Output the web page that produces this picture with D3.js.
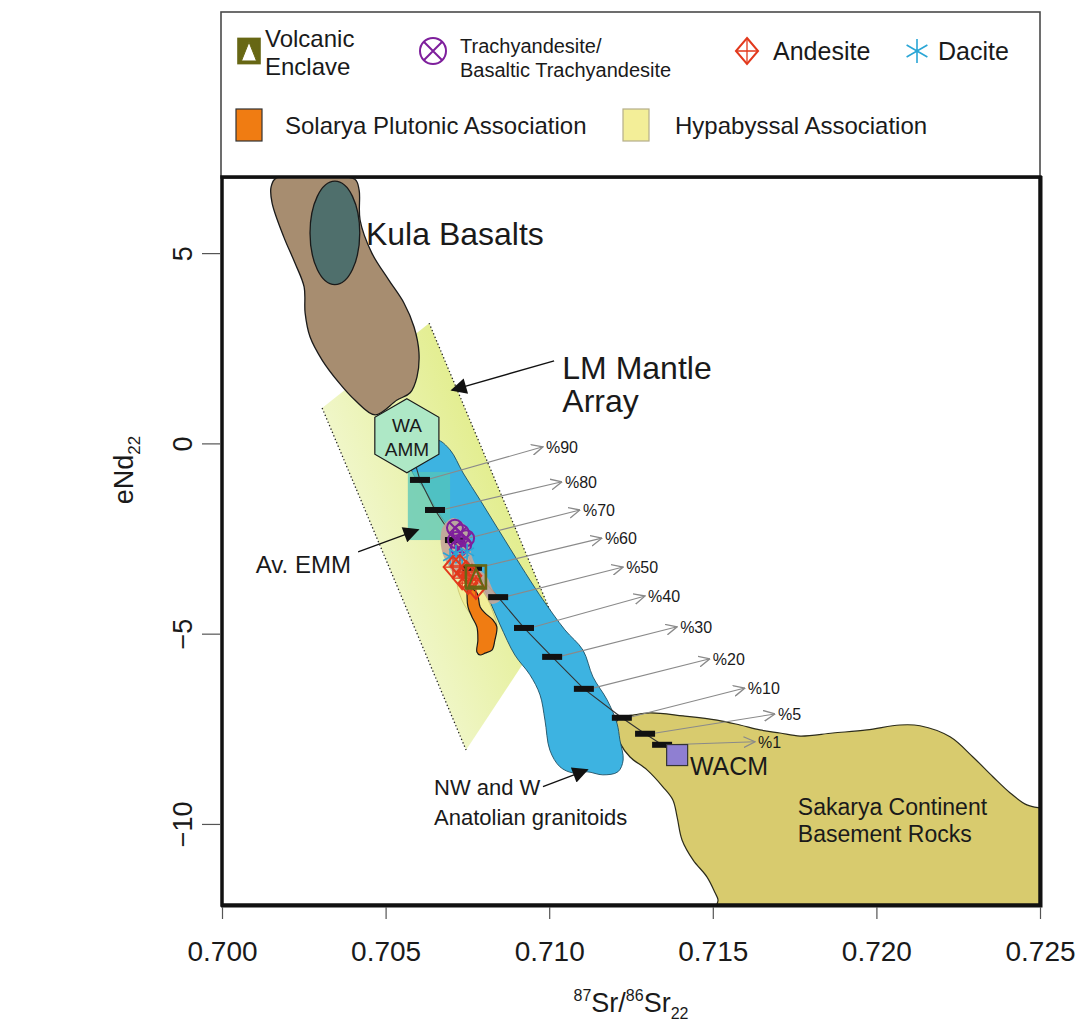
<!DOCTYPE html>
<html>
<head>
<meta charset="utf-8">
<script src="https://cdn.jsdelivr.net/npm/d3@7/dist/d3.min.js"></script>
<style>
  html, body { margin: 0; padding: 0; background: #ffffff; }
  svg text { font-family: "Liberation Sans", Arial, Helvetica, sans-serif; fill: #1a1a1a; }
</style>
</head>
<body>
<svg id="chart" width="1091" height="1026"></svg>
<script>
// ---------------- axes ----------------
const xDomain = [0.700, 0.725];
const yDomain = [-12.13, 7.0];
const xTicks = [0.700, 0.705, 0.710, 0.715, 0.720, 0.725];
const yTicks = [-10, -5, 0, 5];

// ---------------- reference fields: [87Sr/86Sr, eNd] ----------------
const kulaField = [[0.70150,6.74],[0.70165,6.97],[0.70284,6.99],[0.70406,6.94],[0.70419,6.66],[0.70422,5.87],
  [0.70458,5.00],[0.70510,4.29],[0.70556,3.69],[0.70587,3.06],[0.70602,2.38],[0.70596,1.75],[0.70575,1.33],
  [0.70535,1.14],[0.70468,0.75],[0.70406,1.14],[0.70358,1.59],[0.70306,2.19],[0.70269,2.80],[0.70254,3.43],
  [0.70251,4.11],[0.70223,4.74],[0.70189,5.42],[0.70153,6.32]];
const kulaCore = { sr: 0.70345, nd: 5.53, dSr: 0.00076, dNd: 1.36 };

const lmMantleArray = [[0.70306,0.93],[0.70633,3.16],[0.71012,-4.59],[0.70746,-8.06]];

const granitoidField = [[0.70611,-0.12],[0.70657,0.09],[0.70697,-0.17],[0.70737,-0.78],[0.70789,-1.49],
  [0.70840,-2.20],[0.70889,-2.88],[0.70941,-3.59],[0.70981,-4.11],[0.71048,-4.90],[0.71103,-5.43],
  [0.71134,-6.14],[0.71177,-6.74],[0.71207,-7.35],[0.71216,-7.79],[0.71226,-8.32],[0.71210,-8.63],
  [0.71164,-8.71],[0.71116,-8.63],[0.71073,-8.66],[0.71033,-8.50],[0.71002,-8.06],[0.70987,-7.27],
  [0.70972,-6.61],[0.70941,-6.08],[0.70895,-5.56],[0.70850,-4.77],[0.70810,-3.98],[0.70758,-3.06],
  [0.70712,-2.41],[0.70666,-1.88],[0.70620,-1.22],[0.70581,-0.75],[0.70575,-0.44]];

const sakaryaField = [[0.71201,-7.45],[0.71216,-7.21],[0.71256,-7.14],[0.71308,-7.08],[0.71409,-7.16],
  [0.71513,-7.27],[0.71583,-7.40],[0.71644,-7.53],[0.71705,-7.61],[0.71767,-7.69],[0.71867,-7.61],
  [0.71971,-7.53],[0.72072,-7.40],[0.72133,-7.42],[0.72225,-7.71],[0.72295,-8.24],[0.72356,-8.76],
  [0.72408,-9.18],[0.72460,-9.50],[0.72500,-9.58],[0.72530,-9.60],[0.72530,-12.40],[0.71507,-12.40],
  [0.71516,-12.00],[0.71507,-11.81],[0.71482,-11.39],[0.71440,-10.95],[0.71406,-10.42],[0.71391,-9.82],
  [0.71378,-9.37],[0.71348,-9.03],[0.71299,-8.58],[0.71247,-8.24],[0.71216,-7.87]];

const avEMM = [[0.70568,-0.75],[0.70697,-2.54]];   // opposite corners
const waAMM = [0.70565, 0.20];
const wacm = [0.71391, -8.19];

const volcanicField = [[0.70675,-2.20],[0.70706,-1.96],[0.70749,-2.22],[0.70764,-2.98],[0.70779,-3.25],
  [0.70810,-3.51],[0.70828,-3.85],[0.70850,-4.11],[0.70828,-4.22],[0.70798,-4.11],[0.70758,-3.80],
  [0.70706,-3.40],[0.70682,-3.06],[0.70669,-2.67]];
const hypabyssalField = [[0.70721,-3.64],[0.70758,-3.54],[0.70804,-3.98],[0.70828,-4.43],[0.70840,-4.85],
  [0.70822,-5.11],[0.70792,-4.90],[0.70761,-4.51],[0.70733,-4.11]];
const solaryaField = [[0.70752,-3.77],[0.70779,-3.93],[0.70789,-4.30],[0.70804,-4.46],[0.70828,-4.64],
  [0.70840,-4.82],[0.70834,-5.17],[0.70825,-5.43],[0.70804,-5.51],[0.70789,-5.56],[0.70779,-5.48],
  [0.70782,-5.17],[0.70779,-4.82],[0.70764,-4.56],[0.70752,-4.30],[0.70749,-4.04]];

// ---------------- mixing model WA AMM -> WACM ----------------
const mixLabels = ["%90","%80","%70","%60","%50","%40","%30","%20","%10","%5","%1"];
const mixSr = [0.70605,0.70651,0.70712,0.70764,0.70844,0.70923,0.71009,0.71106,0.71222,0.71293,0.71345];
const mixNd = [-0.96,-1.75,-2.54,-3.27,-4.04,-4.85,-5.61,-6.45,-7.21,-7.63,-7.92];
const mixTagSr = [0.70981,0.71039,0.71094,0.71161,0.71226,0.71293,0.71391,0.71491,0.71598,0.71690,0.71629];
const mixTagNd = [-0.09,-1.01,-1.75,-2.49,-3.25,-4.01,-4.82,-5.66,-6.43,-7.11,-7.84];

// ---------------- samples ----------------
const trachyandesiteSr = [0.70712,0.70730,0.70715,0.70737,0.70746,0.70724];
const trachyandesiteNd = [-2.22,-2.35,-2.54,-2.67,-2.49,-2.75];
const daciteSr = [0.70697,0.70715,0.70734,0.70749];
const daciteNd = [-2.98,-2.88,-3.04,-2.85];
const andesiteSr = [0.70706,0.70727,0.70746,0.70764,0.70752,0.70776,0.70734];
const andesiteNd = [-3.25,-3.22,-3.38,-3.48,-3.67,-3.80,-3.54];
const enclaveSr = [0.70776];
const enclaveNd = [-3.51];

// ---------------- legend entries ----------------
const legendSymbols = [
  { key: "enclave", lines: ["Volcanic", "Enclave"] },
  { key: "trachy", lines: ["Trachyandesite/", "Basaltic Trachyandesite"] },
  { key: "andesite", lines: ["Andesite"] },
  { key: "dacite", lines: ["Dacite"] }
];
const legendFields = ["Solarya Plutonic Association", "Hypabyssal Association"];

// ================= drawing =================
const W = 1091, H = 1026;
const margin = { top: 177, right: 51, bottom: 121, left: 222 };
const svg = d3.select("#chart");

const x = d3.scaleLinear().domain(xDomain).range([margin.left, W - margin.right]);
const y = d3.scaleLinear().domain(yDomain).range([H - margin.bottom, margin.top]);

const colors = {
  kula: "#a78d70", kulaCore: "#4f6f6c", band1: "#f1f7cd", band2: "#e2ed8c",
  granitoid: "#3db3e1", sakarya: "#d8cb6e", avEMM: "#56c6b8", waAMM: "#aee8c6",
  volcanic: "#c6a597", hypabyssal: "#f3ee98", solarya: "#f07c12", wacm: "#8f7fd2",
  trachy: "#7e1f9c", dacite: "#2aa6d6", andesite: "#e2391d", enclave: "#676714"
};

const defs = svg.append("defs");
defs.append("clipPath").attr("id", "plotClip").append("rect")
  .attr("x", x(xDomain[0])).attr("y", y(yDomain[1]))
  .attr("width", x(xDomain[1]) - x(xDomain[0])).attr("height", y(yDomain[0]) - y(yDomain[1]));

const grad = defs.append("linearGradient").attr("id", "bandGrad")
  .attr("gradientUnits", "userSpaceOnUse")
  .attr("x1", x(0.7040)).attr("y1", y(-2)).attr("x2", x(0.7085)).attr("y2", y(-0.5));
grad.append("stop").attr("offset", "0%").attr("stop-color", colors.band1);
grad.append("stop").attr("offset", "100%").attr("stop-color", colors.band2);

defs.append("marker").attr("id", "bigHead").attr("viewBox", "0 0 10 10")
  .attr("refX", 9).attr("refY", 5).attr("markerWidth", 18).attr("markerHeight", 16)
  .attr("markerUnits", "userSpaceOnUse").attr("orient", "auto")
  .append("path").attr("d", "M0,0 L10,5 L0,10 Z").attr("fill", "#111");
defs.append("marker").attr("id", "openHead").attr("viewBox", "0 0 10 10")
  .attr("refX", 9.5).attr("refY", 5).attr("markerWidth", 12).attr("markerHeight", 12)
  .attr("markerUnits", "userSpaceOnUse").attr("orient", "auto")
  .append("path").attr("d", "M0,0.5 L9.5,5 L0,9.5").attr("fill", "none")
  .attr("stroke", "#8a8a8a").attr("stroke-width", 1.1);

const toXY = d => [x(d[0]), y(d[1])];
const smooth = d3.line().curve(d3.curveCatmullRomClosed.alpha(0.5));
const straight = d3.line();

// ---- legend box ----
svg.append("rect").attr("x", 221).attr("y", 12).attr("width", 819).attr("height", 166)
  .attr("fill", "#fff").attr("stroke", "#4a4a4a").attr("stroke-width", 1.6);

const plot = svg.append("g").attr("clip-path", "url(#plotClip)");

// LM mantle array band with dotted long sides
const band = lmMantleArray.map(toXY);
plot.append("path").attr("d", straight(band) + "Z").attr("fill", "url(#bandGrad)");
[[0, 3], [1, 2]].forEach(([a, b]) => {
  plot.append("line").attr("x1", band[a][0]).attr("y1", band[a][1])
    .attr("x2", band[b][0]).attr("y2", band[b][1])
    .attr("stroke", "#222").attr("stroke-width", 1.3).attr("stroke-dasharray", "1.3,2.4");
});

// Sakarya basement rocks
plot.append("path").attr("d", smooth(sakaryaField.map(toXY)))
  .attr("fill", colors.sakarya).attr("stroke", "#2b2b1a").attr("stroke-width", 1.2);

// NW and W Anatolian granitoids
plot.append("path").attr("d", smooth(granitoidField.map(toXY)))
  .attr("fill", colors.granitoid).attr("stroke", "#1f4f63").attr("stroke-width", 0.9);

// Av. EMM box
plot.append("rect")
  .attr("x", x(avEMM[0][0])).attr("y", y(avEMM[0][1]))
  .attr("width", x(avEMM[1][0]) - x(avEMM[0][0])).attr("height", y(avEMM[1][1]) - y(avEMM[0][1]))
  .attr("fill", colors.avEMM).attr("opacity", 0.75);

// Kula basalts
plot.append("path").attr("d", smooth(kulaField.map(toXY)))
  .attr("fill", colors.kula).attr("stroke", "#1a1a1a").attr("stroke-width", 1.3);
plot.append("ellipse")
  .attr("cx", x(kulaCore.sr)).attr("cy", y(kulaCore.nd))
  .attr("rx", x(kulaCore.sr + kulaCore.dSr) - x(kulaCore.sr))
  .attr("ry", y(kulaCore.nd - kulaCore.dNd) - y(kulaCore.nd))
  .attr("fill", colors.kulaCore).attr("stroke", "#1a1a1a").attr("stroke-width", 1.3);

// mixing curve
const mixPts = [waAMM].concat(mixSr.map((s, i) => [s, mixNd[i]]), [wacm]);
plot.append("path").attr("d", d3.line()(mixPts.map(toXY)))
  .attr("fill", "none").attr("stroke", "#333").attr("stroke-width", 1.1);

// WA AMM hexagon
const hx = x(waAMM[0]), hy = y(waAMM[1]), hr = 37;
const hexPts = d3.range(6).map(i => {
  const a = -Math.PI / 2 + i * Math.PI / 3;
  return [hx + hr * Math.cos(a), hy + hr * Math.sin(a)];
});
plot.append("path").attr("d", straight(hexPts) + "Z")
  .attr("fill", colors.waAMM).attr("stroke", "#1a1a1a").attr("stroke-width", 1.2);
plot.append("text").attr("x", hx).attr("y", hy - 4).attr("text-anchor", "middle")
  .attr("font-size", 19).text("WA");
plot.append("text").attr("x", hx).attr("y", hy + 20).attr("text-anchor", "middle")
  .attr("font-size", 19).text("AMM");

// sample envelopes
plot.append("path").attr("d", smooth(volcanicField.map(toXY)))
  .attr("fill", colors.volcanic).attr("opacity", 0.9);
plot.append("path").attr("d", smooth(hypabyssalField.map(toXY)))
  .attr("fill", colors.hypabyssal).attr("stroke", "#b9b45a").attr("stroke-width", 0.6);
plot.append("path").attr("d", smooth(solaryaField.map(toXY)))
  .attr("fill", colors.solarya).attr("stroke", "#1a1a1a").attr("stroke-width", 1.2);

// mixing percentages: arrows to tags
mixLabels.forEach((lab, i) => {
  plot.append("line")
    .attr("x1", x(mixSr[i]) + 6).attr("y1", y(mixNd[i]))
    .attr("x2", x(mixTagSr[i])).attr("y2", y(mixTagNd[i]))
    .attr("stroke", "#8a8a8a").attr("stroke-width", 1.1).attr("marker-end", "url(#openHead)");
  plot.append("text").attr("x", x(mixTagSr[i]) + 3).attr("y", y(mixTagNd[i]) + 6)
    .attr("font-size", 16).text(lab);
});
plot.selectAll("rect.mixbar").data(mixSr).join("rect").attr("class", "mixbar")
  .attr("x", (d) => x(d) - 10).attr("y", (d, i) => y(mixNd[i]) - 3)
  .attr("width", 20).attr("height", 6).attr("fill", "#111");

// symbol painters
function drawSymbol(g, type, cx, cy, s, legend) {
  if (type === "enclave") {
    g.append("rect").attr("x", cx - s).attr("y", cy - s * 1.15).attr("width", 2 * s).attr("height", 2.3 * s)
      .attr("fill", legend ? colors.enclave : "none").attr("stroke", colors.enclave).attr("stroke-width", 2.6);
    g.append("path").attr("d", `M${cx},${cy - s * 0.85} L${cx + s * 0.72},${cy + s * 0.95} L${cx - s * 0.72},${cy + s * 0.95}Z`)
      .attr("fill", legend ? "#fff" : "none").attr("stroke", colors.enclave).attr("stroke-width", legend ? 1 : 2);
  } else if (type === "trachy") {
    const k = s * 0.7071;
    g.append("circle").attr("cx", cx).attr("cy", cy).attr("r", s)
      .attr("fill", "none").attr("stroke", colors.trachy).attr("stroke-width", 2);
    g.append("path").attr("d", `M${cx - k},${cy - k}L${cx + k},${cy + k}M${cx + k},${cy - k}L${cx - k},${cy + k}`)
      .attr("stroke", colors.trachy).attr("stroke-width", 2);
  } else if (type === "andesite") {
    g.append("path").attr("d", `M${cx},${cy - s}L${cx + s * 0.85},${cy}L${cx},${cy + s}L${cx - s * 0.85},${cy}Z`)
      .attr("fill", "none").attr("stroke", colors.andesite).attr("stroke-width", 2);
    g.append("path").attr("d", `M${cx - s * 0.85},${cy}L${cx + s * 0.85},${cy}M${cx},${cy - s}L${cx},${cy + s}`)
      .attr("stroke", colors.andesite).attr("stroke-width", 1.3);
  } else if (type === "dacite") {
    const p = [];
    for (let i = 0; i < 3; i++) {
      const a = Math.PI / 2 + i * Math.PI / 3;
      p.push(`M${cx + s * Math.cos(a)},${cy + s * Math.sin(a)}L${cx - s * Math.cos(a)},${cy - s * Math.sin(a)}`);
    }
    g.append("path").attr("d", p.join("")).attr("stroke", colors.dacite).attr("stroke-width", 1.6);
  }
}

const sym = plot.append("g");
trachyandesiteSr.forEach((s, i) => drawSymbol(sym, "trachy", x(s), y(trachyandesiteNd[i]), 8, false));
daciteSr.forEach((s, i) => drawSymbol(sym, "dacite", x(s), y(daciteNd[i]), 8, false));
andesiteSr.forEach((s, i) => drawSymbol(sym, "andesite", x(s), y(andesiteNd[i]), 11, false));
enclaveSr.forEach((s, i) => drawSymbol(sym, "enclave", x(s), y(enclaveNd[i]), 10, false));

// WACM end member
plot.append("rect").attr("x", x(wacm[0]) - 10.5).attr("y", y(wacm[1]) - 10.5)
  .attr("width", 21).attr("height", 21).attr("fill", colors.wacm).attr("stroke", "#333").attr("stroke-width", 1.2);

// field labels
const lbl = (sr, nd, txt, size, anchor) => plot.append("text").attr("x", x(sr)).attr("y", y(nd))
  .attr("font-size", size).attr("text-anchor", anchor || "start").text(txt);
lbl(0.70440, 5.22, "Kula Basalts", 32);
lbl(0.71040, 1.70, "LM Mantle", 32);
lbl(0.71040, 0.83, "Array", 32);
lbl(0.70394, -3.40, "Av. EMM", 24, "end");
lbl(0.70648, -9.24, "NW and W", 22);
lbl(0.70648, -10.03, "Anatolian granitoids", 22);
lbl(0.71430, -8.71, "WACM", 25);
lbl(0.71760, -9.76, "Sakarya Continent", 23);
lbl(0.71760, -10.47, "Basement Rocks", 23);

// pointer arrows
const pointer = (a, b, head) => plot.append("line")
  .attr("x1", x(a[0])).attr("y1", y(a[1])).attr("x2", x(b[0])).attr("y2", y(b[1]))
  .attr("stroke", "#111").attr("stroke-width", 1.3).attr("marker-end", `url(#${head})`);
pointer([0.71015, 2.17], [0.70703, 1.40], "bigHead");
pointer([0.70416, -2.85], [0.70599, -2.27], "bigHead");
pointer([0.70981, -9.02], [0.71116, -8.58], "bigHead");

// ---- frame ----
const fx0 = x(xDomain[0]), fx1 = x(xDomain[1]), fy0 = y(yDomain[1]), fy1 = y(yDomain[0]);
svg.append("rect").attr("x", fx0).attr("y", fy0).attr("width", fx1 - fx0).attr("height", fy1 - fy0)
  .attr("fill", "none").attr("stroke", "#111").attr("stroke-width", 3.5);
svg.append("path").attr("d", `M${fx1 + 1},${fy0 - 1}L${fx1 + 1},${fy1 + 1}L${fx0 - 1},${fy1 + 1}`)
  .attr("fill", "none").attr("stroke", "#111").attr("stroke-width", 3);

// ---- axes ----
const yAxis = svg.append("g").attr("transform", `translate(${fx0 - 2},0)`)
  .call(d3.axisLeft(y).tickValues(yTicks).tickSize(18).tickPadding(28).tickFormat(d3.format("d")));
yAxis.select(".domain").remove();
yAxis.selectAll(".tick line").attr("stroke", "#555").attr("stroke-width", 1.2);
yAxis.selectAll(".tick text").attr("font-size", 27).attr("fill", "#1a1a1a")
  .attr("text-anchor", "middle").attr("x", 0).attr("y", -28).attr("dy", 0)
  .attr("transform", "rotate(-90)");

const xAxis = svg.append("g").attr("transform", `translate(0,${fy1 + 2})`)
  .call(d3.axisBottom(x).tickValues(xTicks).tickSize(12).tickPadding(22).tickFormat(d3.format(".3f")));
xAxis.select(".domain").remove();
xAxis.selectAll(".tick line").attr("stroke", "#555").attr("stroke-width", 1.2);
xAxis.selectAll(".tick text").attr("font-size", 28).attr("fill", "#1a1a1a");

// axis titles
const yt = svg.append("text").attr("transform", `translate(133,470) rotate(-90)`)
  .attr("text-anchor", "middle").attr("font-size", 27);
yt.append("tspan").text("eNd");
yt.append("tspan").attr("font-size", 17).attr("dy", 7).text("22");

const xt = svg.append("text").attr("x", (fx0 + fx1) / 2).attr("y", 1012)
  .attr("text-anchor", "middle").attr("font-size", 27);
xt.append("tspan").attr("font-size", 16).attr("dy", -11).text("87");
xt.append("tspan").attr("dy", 11).text("Sr/");
xt.append("tspan").attr("font-size", 16).attr("dy", -11).text("86");
xt.append("tspan").attr("dy", 11).text("Sr");
xt.append("tspan").attr("font-size", 16).attr("dy", 7).text("22");

// ---- legend ----
const lg = svg.append("g");
const symSlots = [
  { sx: 249, tx: 265, ty: [47, 75], fs: 24 },
  { sx: 433, tx: 460, ty: [53, 77], fs: 20 },
  { sx: 747, tx: 773, ty: [60], fs: 25 },
  { sx: 917, tx: 938, ty: [60], fs: 25 }
];
legendSymbols.forEach((d, i) => {
  const slot = symSlots[i];
  const size = d.key === "enclave" ? 10.5 : (d.key === "dacite" ? 12 : 13);
  drawSymbol(lg, d.key, slot.sx, 51, size, true);
  d.lines.forEach((t, j) => lg.append("text").attr("x", slot.tx).attr("y", slot.ty[j])
    .attr("font-size", slot.fs).text(t));
});
const fieldSlots = [
  { bx: 236, tx: 285, fill: colors.solarya, stroke: "#333" },
  { bx: 623, tx: 675, fill: colors.hypabyssal, stroke: "#b5ae8a" }
];
legendFields.forEach((t, i) => {
  const s = fieldSlots[i];
  lg.append("rect").attr("x", s.bx).attr("y", 109).attr("width", 26).attr("height", 32)
    .attr("fill", s.fill).attr("stroke", s.stroke).attr("stroke-width", 1.2);
  lg.append("text").attr("x", s.tx).attr("y", 134).attr("font-size", 24).text(t);
});
</script>
</body>
</html>
